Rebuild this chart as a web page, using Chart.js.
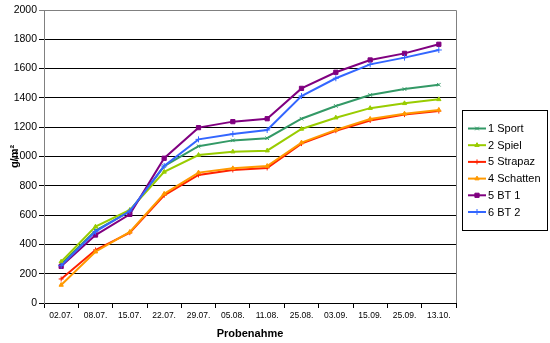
<!DOCTYPE html>
<html>
<head>
<meta charset="utf-8">
<script src="https://cdn.jsdelivr.net/npm/chart.js@4"></script>
<style>
    html, body { margin: 0; padding: 0; background: #fff; }
    #wrap { width: 550px; height: 343px; }
</style>
</head>
<body>
<div id="wrap"><canvas id="growthChart" width="550" height="343"></canvas></div>
<script>
// Messwerte g/m² je Probenahme
const dates = ['02.07.', '08.07.', '15.07.', '22.07.', '29.07.', '05.08.', '11.08.', '25.08.', '03.09.', '15.09.', '25.09.', '13.10.'];
const sport = [265, 495, 625, 935, 1070, 1110, 1125, 1258, 1345, 1420, 1460, 1490];
const spiel = [282, 521, 635, 895, 1010, 1033, 1040, 1188, 1265, 1330, 1363, 1390];
const strapaz = [164, 362, 480, 735, 874, 908, 922, 1088, 1176, 1246, 1286, 1310];
const schatten = [123, 350, 485, 745, 890, 919, 935, 1095, 1182, 1256, 1292, 1318];
const bt1 = [250, 464, 605, 988, 1197, 1238, 1258, 1465, 1575, 1659, 1704, 1766];
const bt2 = [255, 487, 628, 935, 1117, 1154, 1181, 1413, 1534, 1629, 1675, 1727];
const yTicks = [0, 200, 400, 600, 800, 1000, 1200, 1400, 1600, 1800, 2000];

const FONT = "'Liberation Sans', Arial, sans-serif";

function series(label, data, color, style, radius, idx) {
    return {
        label: label,
        data: data,
        borderColor: color,
        backgroundColor: color,
        borderWidth: 2,
        tension: 0,
        pointStyle: style,
        pointRadius: radius,
        pointBorderWidth: 1,
        pointBackgroundColor: color,
        pointBorderColor: color,
        order: 5 - idx
    };
}

const datasets = [
    series('1 Sport', sport, '#339966', 'crossRot', 2.5, 0),
    series('2 Spiel', spiel, '#99cc00', 'triangle', 2.5, 1),
    series('5 Strapaz', strapaz, '#ff2200', 'cross', 2.5, 2),
    series('4 Schatten', schatten, '#ff9900', 'triangle', 2.5, 3),
    series('5 BT 1', bt1, '#800080', 'rect', 3, 4),
    series('6 BT 2', bt2, '#3366ff', 'cross', 3, 5)
];

// Rahmen des Diagrammbereichs (oben/rechts grau)
const plotFrame = {
    id: 'plotFrame',
    afterDatasetsDraw(chart) {
        const { ctx, chartArea } = chart;
        ctx.save();
        ctx.strokeStyle = '#808080';
        ctx.lineWidth = 1;
        ctx.beginPath();
        ctx.moveTo(chartArea.left, chartArea.top + 0.5);
        ctx.lineTo(chartArea.right + 0.5, chartArea.top + 0.5);
        ctx.lineTo(chartArea.right + 0.5, chartArea.bottom);
        ctx.stroke();
        ctx.restore();
    }
};

// Legende mit Rahmen wie im Original
const legendBox = {
    id: 'legendBox',
    afterDraw(chart) {
        const ctx = chart.ctx;
        const x = chart.chartArea.right + 6;
        const y = 110, w = 85, h = 120;
        ctx.save();
        ctx.fillStyle = '#fff';
        ctx.fillRect(x, y, w, h);
        ctx.strokeStyle = '#000';
        ctx.lineWidth = 1;
        ctx.strokeRect(x + 0.5, y + 0.5, w, h);
        ctx.font = '11px ' + FONT;
        ctx.textBaseline = 'middle';
        chart.data.datasets.forEach((ds, i) => {
            const cy = y + 18.5 + i * 16.7;
            ctx.strokeStyle = ds.borderColor;
            ctx.fillStyle = ds.borderColor;
            ctx.lineWidth = 2;
            ctx.beginPath();
            ctx.moveTo(x + 6, cy);
            ctx.lineTo(x + 24, cy);
            ctx.stroke();
            ctx.lineWidth = 1;
            Chart.helpers.drawPoint(ctx, { pointStyle: ds.pointStyle, radius: ds.pointRadius, rotation: 0, borderWidth: 1 }, x + 15, cy);
            ctx.fillStyle = '#000';
            ctx.fillText(ds.label, x + 26, cy + 0.5);
        });
        ctx.restore();
    }
};

const ctxGrowth = document.getElementById('growthChart').getContext('2d');
const growthChart = new Chart(ctxGrowth, {
    type: 'line',
    data: { labels: dates, datasets: datasets },
    plugins: [plotFrame, legendBox],
    options: {
        responsive: false,
        animation: false,
        layout: { padding: { top: 10, right: 94, left: 0, bottom: 0 } },
        plugins: { legend: { display: false }, tooltip: { enabled: false } },
        scales: {
            x: {
                type: 'category',
                offset: true,
                afterFit: (scale) => { scale.height = 40; },
                grid: { offset: true, drawOnChartArea: false, drawTicks: true, tickLength: 5, color: '#000' },
                border: { color: '#000' },
                ticks: { color: '#000', padding: 3, maxRotation: 0, autoSkip: false, font: { family: FONT, size: 8.5 } },
                title: { display: true, text: 'Probenahme', color: '#000', padding: { top: 0, bottom: 2 }, font: { family: FONT, size: 11, weight: 'bold' } }
            },
            y: {
                min: 0,
                max: 2000,
                afterFit: (scale) => { scale.width = 44; },
                afterBuildTicks: (scale) => { scale.ticks = yTicks.map(v => ({ value: v })); },
                grid: {
                    color: (c) => (c.tick && c.tick.value === 2000 ? '#808080' : '#000'),
                    tickLength: 5,
                    drawTicks: true
                },
                border: { color: '#808080' },
                ticks: { color: '#000', padding: 2, font: { family: FONT, size: 10.5 }, callback: (v) => String(v) },
                title: { display: true, text: 'g/m²', color: '#000', padding: { top: 8, bottom: 0 }, font: { family: FONT, size: 11, weight: 'bold' } }
            }
        }
    }
});
</script>
</body>
</html>
